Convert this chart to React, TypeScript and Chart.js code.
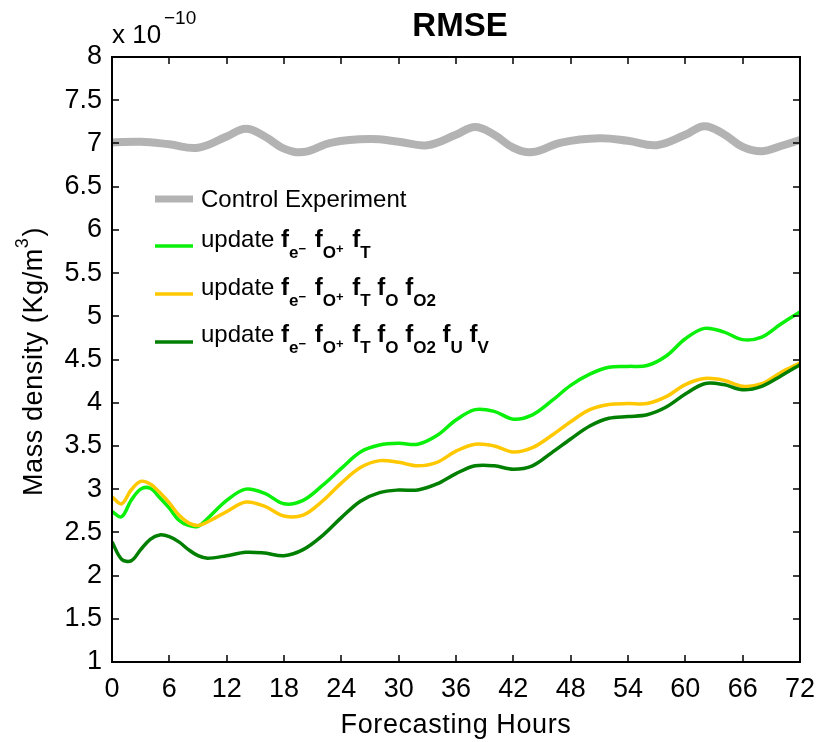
import React, { useEffect, useRef } from "react";
import { Chart, registerables } from "chart.js";
Chart.register(...registerables);

// ---- data (values in units of 1e-10 kg/m^3) ----
const hours = [0, 1, 2, 3, 4, 5, 6, 7, 8, 9, 10, 12, 14, 16, 18, 20, 22, 24, 26, 28, 30, 32, 34, 36, 38, 40, 42, 44, 46, 48, 50, 52, 54, 56, 58, 60, 62, 64, 66, 68, 70, 72];
const updateEOT = [2.74, 2.68, 2.87, 3.0, 3.01, 2.9, 2.78, 2.64, 2.58, 2.57, 2.66, 2.87, 3.0, 2.95, 2.83, 2.87, 3.04, 3.24, 3.43, 3.51, 3.53, 3.52, 3.62, 3.8, 3.92, 3.9, 3.81, 3.86, 4.02, 4.2, 4.33, 4.41, 4.42, 4.43, 4.54, 4.74, 4.86, 4.82, 4.73, 4.76, 4.91, 5.05];
const updateEOTOO2 = [2.91, 2.83, 2.99, 3.09, 3.06, 2.96, 2.84, 2.7, 2.61, 2.58, 2.62, 2.74, 2.85, 2.8, 2.69, 2.7, 2.86, 3.07, 3.25, 3.33, 3.31, 3.27, 3.31, 3.44, 3.52, 3.5, 3.43, 3.48, 3.62, 3.78, 3.92, 3.98, 3.99, 3.99, 4.07, 4.21, 4.28, 4.26, 4.19, 4.22, 4.35, 4.46];
const updateAll = [2.39, 2.19, 2.17, 2.3, 2.42, 2.47, 2.45, 2.39, 2.3, 2.23, 2.2, 2.23, 2.27, 2.26, 2.23, 2.3, 2.46, 2.67, 2.86, 2.96, 2.99, 2.99, 3.06, 3.18, 3.27, 3.27, 3.23, 3.27, 3.42, 3.58, 3.73, 3.82, 3.84, 3.86, 3.95, 4.1, 4.22, 4.21, 4.15, 4.19, 4.31, 4.44];
const controlHours = [0, 3, 6, 9, 12, 14, 16, 18, 20, 23, 27, 30, 33, 36, 38, 40, 42, 44, 47, 51, 54, 57, 60, 62, 64, 66, 68, 70, 72];
const controlValues = [7.01, 7.02, 6.99, 6.95, 7.08, 7.17, 7.08, 6.94, 6.9, 7.01, 7.05, 7.02, 6.98, 7.1, 7.19, 7.1, 6.95, 6.9, 7.01, 7.06, 7.03, 6.98, 7.1, 7.2, 7.11, 6.96, 6.91, 6.97, 7.04];

const xMin = 0, xMax = 72, xStep = 6;
const yMin = 1, yMax = 8, yStep = 0.5;

const title = "RMSE";
const xTitle = "Forecasting Hours";
const yTitleMain = "Mass density (Kg/m";
const yTitleSup = "3";
const yTitleEnd = ")";
const exponentBase = "x 10";
const exponentSup = "\u221210";

const COLORS = {
  control: "#b3b3b3",
  eot: "#0af00a",
  eotoo2: "#ffc800",
  all: "#007f00",
};

const FONT = "'Liberation Sans', Arial, Helvetica, sans-serif";

type Seg = { t: string; k: "n" | "b" | "sub" | "ss" };
const legendRows: { color: string; width: number; segs: Seg[] }[] = [
  { color: COLORS.control, width: 7, segs: [{ t: "Control Experiment", k: "n" }] },
  {
    color: COLORS.eot, width: 3.5,
    segs: [
      { t: "update ", k: "n" }, { t: "f", k: "b" }, { t: "e", k: "sub" }, { t: "\u2212", k: "ss" },
      { t: " f", k: "b" }, { t: "O", k: "sub" }, { t: "+", k: "ss" }, { t: " f", k: "b" }, { t: "T", k: "sub" },
    ],
  },
  {
    color: COLORS.eotoo2, width: 3.5,
    segs: [
      { t: "update ", k: "n" }, { t: "f", k: "b" }, { t: "e", k: "sub" }, { t: "\u2212", k: "ss" },
      { t: " f", k: "b" }, { t: "O", k: "sub" }, { t: "+", k: "ss" }, { t: " f", k: "b" }, { t: "T", k: "sub" },
      { t: " f", k: "b" }, { t: "O", k: "sub" }, { t: " f", k: "b" }, { t: "O2", k: "sub" },
    ],
  },
  {
    color: COLORS.all, width: 3.5,
    segs: [
      { t: "update ", k: "n" }, { t: "f", k: "b" }, { t: "e", k: "sub" }, { t: "\u2212", k: "ss" },
      { t: " f", k: "b" }, { t: "O", k: "sub" }, { t: "+", k: "ss" }, { t: " f", k: "b" }, { t: "T", k: "sub" },
      { t: " f", k: "b" }, { t: "O", k: "sub" }, { t: " f", k: "b" }, { t: "O2", k: "sub" },
      { t: " f", k: "b" }, { t: "U", k: "sub" }, { t: " f", k: "b" }, { t: "V", k: "sub" },
    ],
  },
];

const decorPlugin = {
  id: "decor",
  afterDraw(chart: any) {
    const { ctx, chartArea: a, scales } = chart;
    const xs = scales.x, ys = scales.y;
    ctx.save();
    ctx.strokeStyle = "#000";
    ctx.lineWidth = 1.5;
    const tl = 7;
    ctx.beginPath();
    xs.ticks.forEach((t: any) => {
      const px = Math.round(xs.getPixelForValue(t.value));
      ctx.moveTo(px, a.bottom); ctx.lineTo(px, a.bottom - tl);
      ctx.moveTo(px, a.top); ctx.lineTo(px, a.top + tl);
    });
    ys.ticks.forEach((t: any) => {
      const py = Math.round(ys.getPixelForValue(t.value));
      ctx.moveTo(a.left, py); ctx.lineTo(a.left + tl, py);
      ctx.moveTo(a.right, py); ctx.lineTo(a.right - tl, py);
    });
    ctx.stroke();
    ctx.lineWidth = 2;
    ctx.strokeRect(a.left, a.top, a.right - a.left, a.bottom - a.top);

    ctx.fillStyle = "#000";
    // title
    ctx.font = `bold 33px ${FONT}`;
    ctx.textAlign = "center";
    ctx.textBaseline = "alphabetic";
    ctx.fillText(title, 460, 36);
    // exponent
    ctx.textAlign = "left";
    ctx.font = `26px ${FONT}`;
    ctx.fillText(exponentBase, a.left, 43);
    ctx.font = `19px ${FONT}`;
    ctx.fillText(exponentSup, 164, 24);
    // x title
    (ctx as any).letterSpacing = "0.6px";
    ctx.font = `27px ${FONT}`;
    ctx.textAlign = "center";
    ctx.fillText(xTitle, (a.left + a.right) / 2, 733);
    // y title
    ctx.save();
    ctx.translate(42, 362);
    ctx.rotate(-Math.PI / 2);
    ctx.textAlign = "left";
    ctx.font = `27px ${FONT}`;
    const w1 = ctx.measureText(yTitleMain).width;
    const w3 = ctx.measureText(yTitleEnd).width;
    ctx.font = `18px ${FONT}`;
    const w2 = ctx.measureText(yTitleSup).width;
    let x0 = -(w1 + w2 + w3) / 2;
    ctx.font = `27px ${FONT}`;
    ctx.fillText(yTitleMain, x0, 0);
    ctx.font = `18px ${FONT}`;
    ctx.fillText(yTitleSup, x0 + w1, -14);
    ctx.font = `27px ${FONT}`;
    ctx.fillText(yTitleEnd, x0 + w1 + w2 + 1, 0);
    ctx.restore();
    (ctx as any).letterSpacing = "0px";

    // legend
    const baselines = [207, 247, 294.5, 342];
    const lineYs = [199, 246, 294, 342];
    legendRows.forEach((row, i) => {
      ctx.strokeStyle = row.color;
      ctx.lineWidth = row.width;
      ctx.lineCap = "butt";
      ctx.beginPath();
      ctx.moveTo(155, lineYs[i]);
      ctx.lineTo(193, lineYs[i]);
      ctx.stroke();
      let x = 201;
      const by = baselines[i];
      ctx.textAlign = "left";
      row.segs.forEach((s) => {
        let dy = 0;
        if (s.k === "n") ctx.font = `24px ${FONT}`;
        else if (s.k === "b") ctx.font = `bold 24px ${FONT}`;
        else if (s.k === "sub") { ctx.font = `bold 17px ${FONT}`; dy = 11; }
        else { ctx.font = `bold 13px ${FONT}`; dy = 6; }
        ctx.fillText(s.t, x, by + dy);
        x += ctx.measureText(s.t).width + (s.k === "ss" ? 2 : 0);
      });
    });
    ctx.restore();
  },
};

export default function App() {
  const ref = useRef<HTMLCanvasElement | null>(null);
  useEffect(() => {
    document.body.style.margin = "0";
    const canvas = ref.current!;
    const mk = (xsArr: number[], ys: number[]) => xsArr.map((x, i) => ({ x, y: ys[i] }));
    const chart = new Chart(canvas, {
      type: "line",
      data: {
        datasets: [
          { label: "Control Experiment", data: mk(controlHours, controlValues), borderColor: COLORS.control, borderWidth: 8, pointRadius: 0, tension: 0.4, order: 4 },
          { label: "update fe- fO+ fT", data: mk(hours, updateEOT), borderColor: COLORS.eot, borderWidth: 3.5, pointRadius: 0, tension: 0.35, order: 3 },
          { label: "update fe- fO+ fT fO fO2", data: mk(hours, updateEOTOO2), borderColor: COLORS.eotoo2, borderWidth: 3.5, pointRadius: 0, tension: 0.35, order: 2 },
          { label: "update fe- fO+ fT fO fO2 fU fV", data: mk(hours, updateAll), borderColor: COLORS.all, borderWidth: 3.5, pointRadius: 0, tension: 0.35, order: 1 },
        ],
      },
      options: {
        animation: false,
        responsive: false,
        devicePixelRatio: 1,
        layout: { padding: { top: 57, right: 18, left: 0, bottom: 0 } },
        plugins: { legend: { display: false }, tooltip: { enabled: false }, title: { display: false } },
        scales: {
          x: {
            type: "linear", min: xMin, max: xMax,
            ticks: { stepSize: xStep, color: "#000", font: { size: 27, family: FONT }, padding: 11, maxRotation: 0, callback: (v: any) => String(Number(v)) },
            grid: { display: false, drawTicks: false },
            border: { display: false },
            afterFit: (s: any) => { s.height = 80; },
          },
          y: {
            type: "linear", min: yMin, max: yMax,
            ticks: { stepSize: yStep, color: "#000", font: { size: 27, family: FONT }, padding: 10, callback: (v: any) => String(Number(v)) },
            grid: { display: false, drawTicks: false },
            border: { display: false },
            afterFit: (s: any) => { s.width = 112; },
          },
        },
      },
      plugins: [decorPlugin],
    } as any);
    return () => chart.destroy();
  }, []);
  return (
    <div style={{ width: 826, height: 742, background: "#fff" }}>
      <canvas ref={ref} width={826} height={742} />
    </div>
  );
}
